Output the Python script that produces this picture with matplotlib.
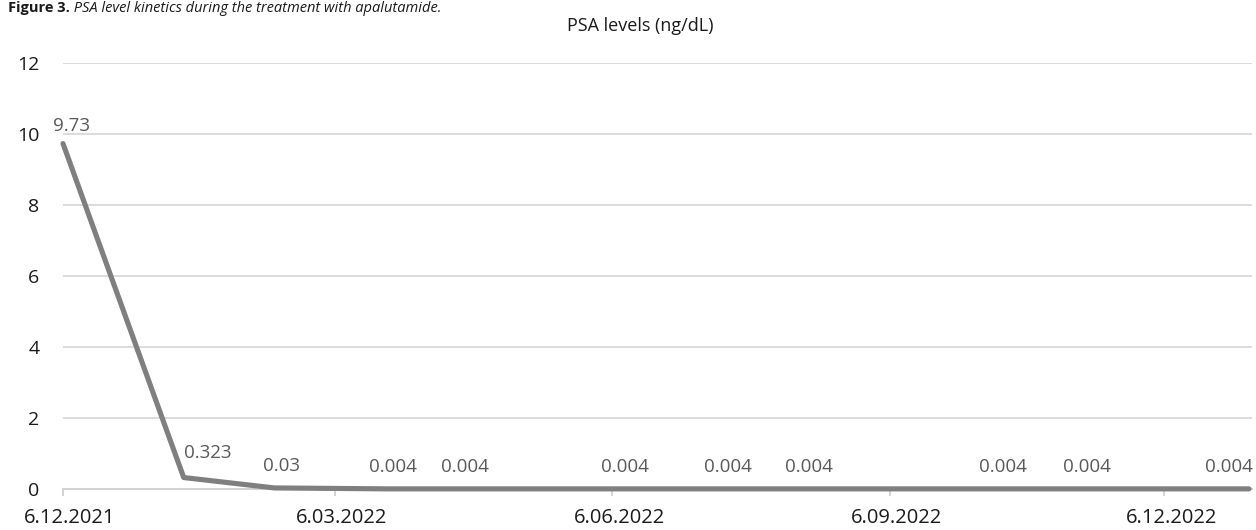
import matplotlib
matplotlib.use("Agg")
import matplotlib.pyplot as plt
import matplotlib.transforms as mtransforms
import pandas as pd

# ---- data ----
dates = ["2021-12-06", "2022-01-15", "2022-02-14", "2022-03-23", "2022-04-16",
         "2022-06-08", "2022-07-12", "2022-08-08", "2022-10-11", "2022-11-08",
         "2023-01-03"]
psa = [9.73, 0.323, 0.03, 0.004, 0.004, 0.004, 0.004, 0.004, 0.004, 0.004, 0.004]
value_labels = ["9.73", "0.323", "0.03", "0.004", "0.004", "0.004", "0.004",
                "0.004", "0.004", "0.004", "0.004"]
tick_dates = ["2021-12-06", "2022-03-06", "2022-06-06", "2022-09-06", "2022-12-06"]
tick_labels = ["6.12.2021", "6.03.2022", "6.06.2022", "6.09.2022", "6.12.2022"]
y_ticks = [0, 2, 4, 6, 8, 10, 12]
chart_title = "PSA levels (ng/dL)"
caption_bold = "Figure 3."
caption_rest = " PSA level kinetics during the treatment with apalutamide."

x = pd.to_datetime(dates)
xt = pd.to_datetime(tick_dates)

plt.rcParams['font.family'] = ['Open Sans', 'DejaVu Sans']

W, H = 1256, 530
fig = plt.figure(figsize=(W / 100, H / 100), dpi=100)
ax = fig.add_axes([63 / W, (H - 489) / H, (1252 - 63) / W, (489 - 63) / H])

ax.plot(x, psa, color="#7f7f7f", lw=3.7, solid_capstyle="round",
        solid_joinstyle="round", zorder=3, clip_on=False)

ax.set_ylim(0, 12)
ax.set_yticks(y_ticks)
ax.set_xlim(pd.Timestamp("2021-12-06"), pd.Timestamp("2023-01-04"))
ax.set_xticks(xt)
ax.set_xticklabels(tick_labels)

ax.grid(axis="y", color="#d9d9d9", lw=1.3, zorder=0)
for s in ["left", "right", "top"]:
    ax.spines[s].set_visible(False)
ax.spines["bottom"].set_color("#d0d0d0")
ax.spines["bottom"].set_linewidth(1.3)

ax.tick_params(axis="y", length=0, pad=17, labelsize=14, labelcolor="#1a1a1a")
ax.tick_params(axis="x", length=5, width=1.3, color="#d0d0d0", pad=9,
               labelsize=14.5, labelcolor="#1a1a1a")
shift = mtransforms.ScaledTranslation(7 / 100, 0, fig.dpi_scale_trans)
for lab in ax.get_xticklabels():
    lab.set_transform(lab.get_transform() + shift)

# data labels (offsets in pixels -> points at dpi 100: *0.72)
offsets = {1: (24, 25), len(psa) - 1: (-20, 22), 0: (9, 18)}
for i, (xi, yi, t) in enumerate(zip(x, psa, value_labels)):
    dx, dy = offsets.get(i, (7, 22))
    ax.annotate(t, (xi, yi), xytext=(dx * 0.72, dy * 0.72),
                textcoords="offset points", ha="center", va="center",
                fontsize=13.5, color="#595959", annotation_clip=False)

fig.text(640 / W, 1 - 26 / H, chart_title, ha="center", va="center",
         fontsize=13, color="#1a1a1a")

# caption at the very top
t1 = fig.text(8 / W, 1 - 1 / H, caption_bold, ha="left", va="top",
              fontsize=10.5, fontweight="bold", color="#1a1a1a")
fig.canvas.draw()
bb = t1.get_window_extent(fig.canvas.get_renderer())
fig.text(bb.x1 / W, 1 - 1 / H, caption_rest, ha="left", va="top",
         fontsize=10.5, fontstyle="italic", color="#1a1a1a")

fig.savefig("out.png", dpi=100)
